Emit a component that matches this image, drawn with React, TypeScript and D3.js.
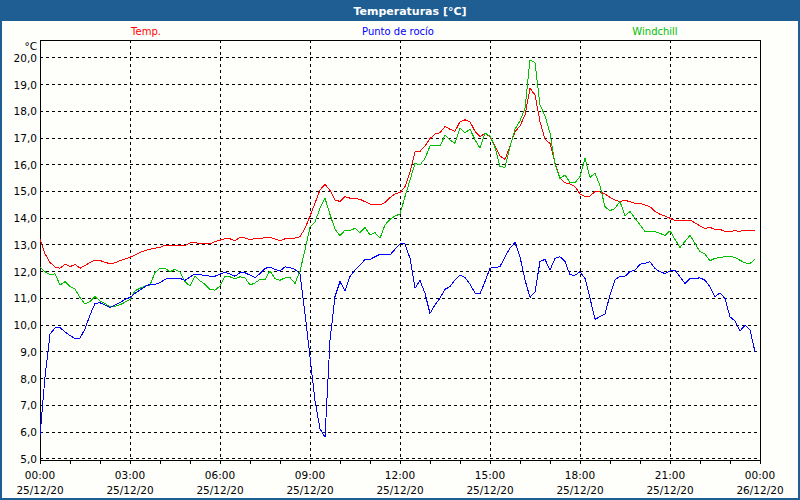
import React, {useEffect, useRef} from 'react';
import * as d3 from 'd3';

// 10-minute samples, 00:00 to 23:50 on 25/12/20
const temp = [
  13.20, 12.65, 12.33, 12.15, 12.11, 12.26, 12.17, 12.25, 12.11, 12.21,
  12.33, 12.41, 12.40, 12.33, 12.28, 12.31, 12.39, 12.46, 12.52, 12.61,
  12.70, 12.77, 12.82, 12.86, 12.89, 12.97, 12.97, 12.97, 12.97, 12.95,
  13.06, 13.06, 13.04, 13.03, 13.03, 13.10, 13.16, 13.22, 13.21, 13.14,
  13.26, 13.24, 13.18, 13.22, 13.22, 13.26, 13.27, 13.20, 13.14, 13.21,
  13.24, 13.24, 13.29, 13.60, 14.06, 14.54, 15.04, 15.25, 15.02, 14.66,
  14.61, 14.79, 14.73, 14.71, 14.69, 14.60, 14.51, 14.49, 14.48, 14.56,
  14.75, 14.89, 14.94, 15.16, 15.72, 16.47, 16.48, 16.68, 16.96, 17.13,
  17.18, 17.41, 17.31, 17.23, 17.59, 17.66, 17.59, 17.23, 17.03, 17.16,
  17.03, 16.68, 16.31, 16.18, 16.68, 17.22, 17.43, 17.84, 18.84, 18.59,
  17.59, 16.93, 16.78, 16.03, 15.47, 15.31, 15.26, 15.16, 14.89, 14.79,
  14.81, 14.98, 14.96, 14.89, 14.76, 14.66, 14.60, 14.65, 14.60, 14.54,
  14.54, 14.48, 14.41, 14.23, 14.13, 14.06, 13.98, 13.89, 13.89, 13.91,
  13.91, 13.81, 13.69, 13.60, 13.64, 13.56, 13.56, 13.49, 13.49, 13.51,
  13.49, 13.54, 13.53, 13.53
];

const dewPoint = [
  5.85, 8.04, 9.64, 9.88, 9.89, 9.73, 9.59, 9.48, 9.49, 9.84,
  10.36, 10.79, 10.82, 10.73, 10.64, 10.73, 10.83, 10.94, 11.02, 11.17,
  11.30, 11.42, 11.51, 11.51, 11.57, 11.70, 11.73, 11.73, 11.73, 11.65,
  11.79, 11.89, 11.86, 11.85, 11.81, 11.81, 11.89, 11.96, 11.89, 11.81,
  11.94, 11.94, 11.85, 11.76, 11.91, 12.10, 12.16, 12.06, 12.01, 12.16,
  12.14, 12.06, 11.91, 10.41, 8.79, 7.16, 6.10, 5.79, 9.41, 11.05,
  11.61, 11.27, 11.80, 12.05, 12.22, 12.44, 12.44, 12.54, 12.63, 12.63,
  12.61, 12.82, 13.02, 13.02, 12.48, 11.36, 11.65, 11.17, 10.42, 10.74,
  10.99, 11.32, 11.42, 11.67, 11.86, 11.77, 11.52, 11.18, 11.15, 11.61,
  12.11, 12.14, 12.17, 12.54, 12.86, 13.07, 12.54, 11.67, 11.02, 11.23,
  12.36, 12.44, 12.04, 12.48, 12.54, 12.36, 11.86, 11.85, 11.98, 11.73,
  10.99, 10.20, 10.30, 10.40, 11.11, 11.67, 11.81, 11.81, 11.98, 12.04,
  12.26, 12.29, 12.35, 12.10, 11.98, 11.91, 12.01, 12.04, 11.79, 11.54,
  11.73, 11.73, 11.75, 11.66, 11.41, 11.04, 11.19, 10.98, 10.29, 10.14,
  9.76, 9.98, 9.81, 8.98
];

const windchill = [
  12.15, 11.98, 11.87, 11.90, 11.48, 11.61, 11.42, 11.33, 11.02, 10.77,
  10.86, 11.05, 10.89, 10.79, 10.67, 10.69, 10.74, 10.84, 10.94, 11.27,
  11.36, 11.45, 11.48, 11.95, 12.11, 12.10, 11.98, 12.07, 11.97, 11.61,
  11.44, 11.81, 11.64, 11.51, 11.31, 11.29, 11.44, 11.81, 11.79, 11.71,
  11.79, 11.75, 11.48, 11.56, 11.69, 11.69, 12.01, 11.72, 11.66, 11.75,
  11.76, 11.54, 12.01, 12.79, 13.64, 13.85, 14.35, 14.73, 14.12, 13.57,
  13.32, 13.54, 13.52, 13.60, 13.44, 13.64, 13.35, 13.44, 13.23, 13.73,
  13.94, 14.06, 14.14, 14.79, 15.41, 16.03, 15.97, 16.22, 16.68, 16.71,
  16.68, 17.09, 16.91, 16.78, 17.34, 17.18, 17.31, 16.92, 16.60, 17.16,
  17.06, 16.63, 15.91, 15.89, 16.66, 17.31, 17.62, 18.09, 19.90, 19.80,
  18.22, 17.81, 17.16, 16.01, 15.47, 15.60, 15.31, 15.31, 15.54, 16.22,
  15.51, 15.66, 15.19, 14.41, 14.26, 14.35, 14.60, 14.07, 14.23, 13.98,
  13.73, 13.49, 13.48, 13.48, 13.41, 13.34, 13.51, 13.19, 12.89, 13.11,
  13.34, 13.04, 12.73, 12.64, 12.39, 12.48, 12.51, 12.54, 12.56, 12.51,
  12.41, 12.31, 12.29, 12.44
];

const yTicks = [5, 6, 7, 8, 9, 10, 11, 12, 13, 14, 15, 16, 17, 18, 19, 20];
const xTickHours = [0, 3, 6, 9, 12, 15, 18, 21, 24];
const xTickLabels = ['00:00', '03:00', '06:00', '09:00', '12:00', '15:00', '18:00', '21:00', '00:00'];
const xTickDates = ['25/12/20', '25/12/20', '25/12/20', '25/12/20', '25/12/20', '25/12/20', '25/12/20', '25/12/20', '26/12/20'];

const W = 800;
const H = 500;
const left = 40, right = 760, top = 40, bottom = 460;
const frame = '#1e5e93';
const font = '"DejaVu Sans", Verdana, sans-serif';

function App() {
  const ref = useRef<SVGSVGElement>(null);

  useEffect(() => {
    const svg = d3.select(ref.current);
    svg.selectAll('*').remove();

    const x = d3.scaleLinear().domain([0, 24]).range([left, right]);
    const y = d3.scaleLinear().domain([5, 20]).range([458.3, 57.3]);

    svg.append('rect').attr('width', W).attr('height', H).attr('fill', frame);
    svg.append('rect').attr('x', 2).attr('y', 21).attr('width', W - 4).attr('height', H - 23)
      .attr('fill', '#fefefb');

    svg.append('text').attr('x', 410).attr('y', 14.5).attr('text-anchor', 'middle')
      .attr('fill', 'white').attr('font-weight', 'bold').attr('font-size', 11)
      .attr('font-family', font).text('Temperaturas [°C]');

    const legend = [
      {label: 'Temp.', color: '#ff0000', cx: 146},
      {label: 'Punto de rocío', color: '#0000ff', cx: 398},
      {label: 'Windchill', color: '#00c000', cx: 655}
    ];
    svg.selectAll('.legend').data(legend).enter().append('text')
      .attr('x', d => d.cx).attr('y', 35).attr('text-anchor', 'middle')
      .attr('fill', d => d.color).attr('font-size', 10).attr('font-family', font)
      .text(d => d.label);

    const g = svg.append('g').attr('shape-rendering', 'crispEdges');

    // horizontal grid
    g.selectAll('.hgrid').data(yTicks).enter().append('line')
      .attr('x1', left).attr('x2', right)
      .attr('y1', d => Math.round(y(d)) + 0.5).attr('y2', d => Math.round(y(d)) + 0.5)
      .attr('stroke', 'black').attr('stroke-dasharray', '3,3');

    // vertical grid
    g.selectAll('.vgrid').data(xTickHours.slice(1, -1)).enter().append('line')
      .attr('x1', d => Math.round(x(d)) + 0.5).attr('x2', d => Math.round(x(d)) + 0.5)
      .attr('y1', top).attr('y2', bottom)
      .attr('stroke', 'black').attr('stroke-dasharray', '3,3');

    // hourly ticks
    g.selectAll('.tick').data(d3.range(0, 25)).enter().append('line')
      .attr('x1', d => Math.round(x(d)) + 0.5).attr('x2', d => Math.round(x(d)) + 0.5)
      .attr('y1', bottom).attr('y2', bottom + 4)
      .attr('stroke', 'black');

    // plot frame
    g.append('rect').attr('x', left + 0.5).attr('y', top + 0.5)
      .attr('width', right - left).attr('height', bottom - top)
      .attr('fill', 'none').attr('stroke', 'black');

    const series = [
      {values: temp, color: '#ff0000'},
      {values: windchill, color: '#00c000'},
      {values: dewPoint, color: '#0000ff'}
    ];
    const line = d3.line<number>()
      .x((_, i) => x(i / 6))
      .y(d => y(d));
    svg.selectAll('.series').data(series).enter().append('path')
      .attr('d', d => line(d.values))
      .attr('fill', 'none').attr('stroke', d => d.color).attr('stroke-width', 1)
      .attr('shape-rendering', 'crispEdges');

    svg.selectAll('.ylab').data(yTicks).enter().append('text')
      .attr('x', 37).attr('y', d => y(d) + 4.5).attr('text-anchor', 'end')
      .attr('font-size', 10.5).attr('font-family', font).attr('fill', 'black')
      .text(d => d3.format('.1f')(d).replace('.', ','));
    svg.append('text').attr('x', 37).attr('y', 49.5).attr('text-anchor', 'end')
      .attr('font-size', 10.5).attr('font-family', font).text('°C');

    svg.selectAll('.xlab').data(xTickHours).enter().append('text')
      .attr('x', d => x(d)).attr('y', 479).attr('text-anchor', 'middle')
      .attr('font-size', 10.5).attr('font-family', font)
      .text((_, i) => xTickLabels[i]);
    svg.selectAll('.xdate').data(xTickHours).enter().append('text')
      .attr('x', d => x(d)).attr('y', 494).attr('text-anchor', 'middle')
      .attr('font-size', 10.5).attr('font-family', font)
      .text((_, i) => xTickDates[i]);
  });

  return (
    <div style={{position: 'fixed', left: 0, top: 0}}>
      <svg ref={ref} width={W} height={H} style={{display: 'block'}}/>
    </div>
  );
}

export default App;
